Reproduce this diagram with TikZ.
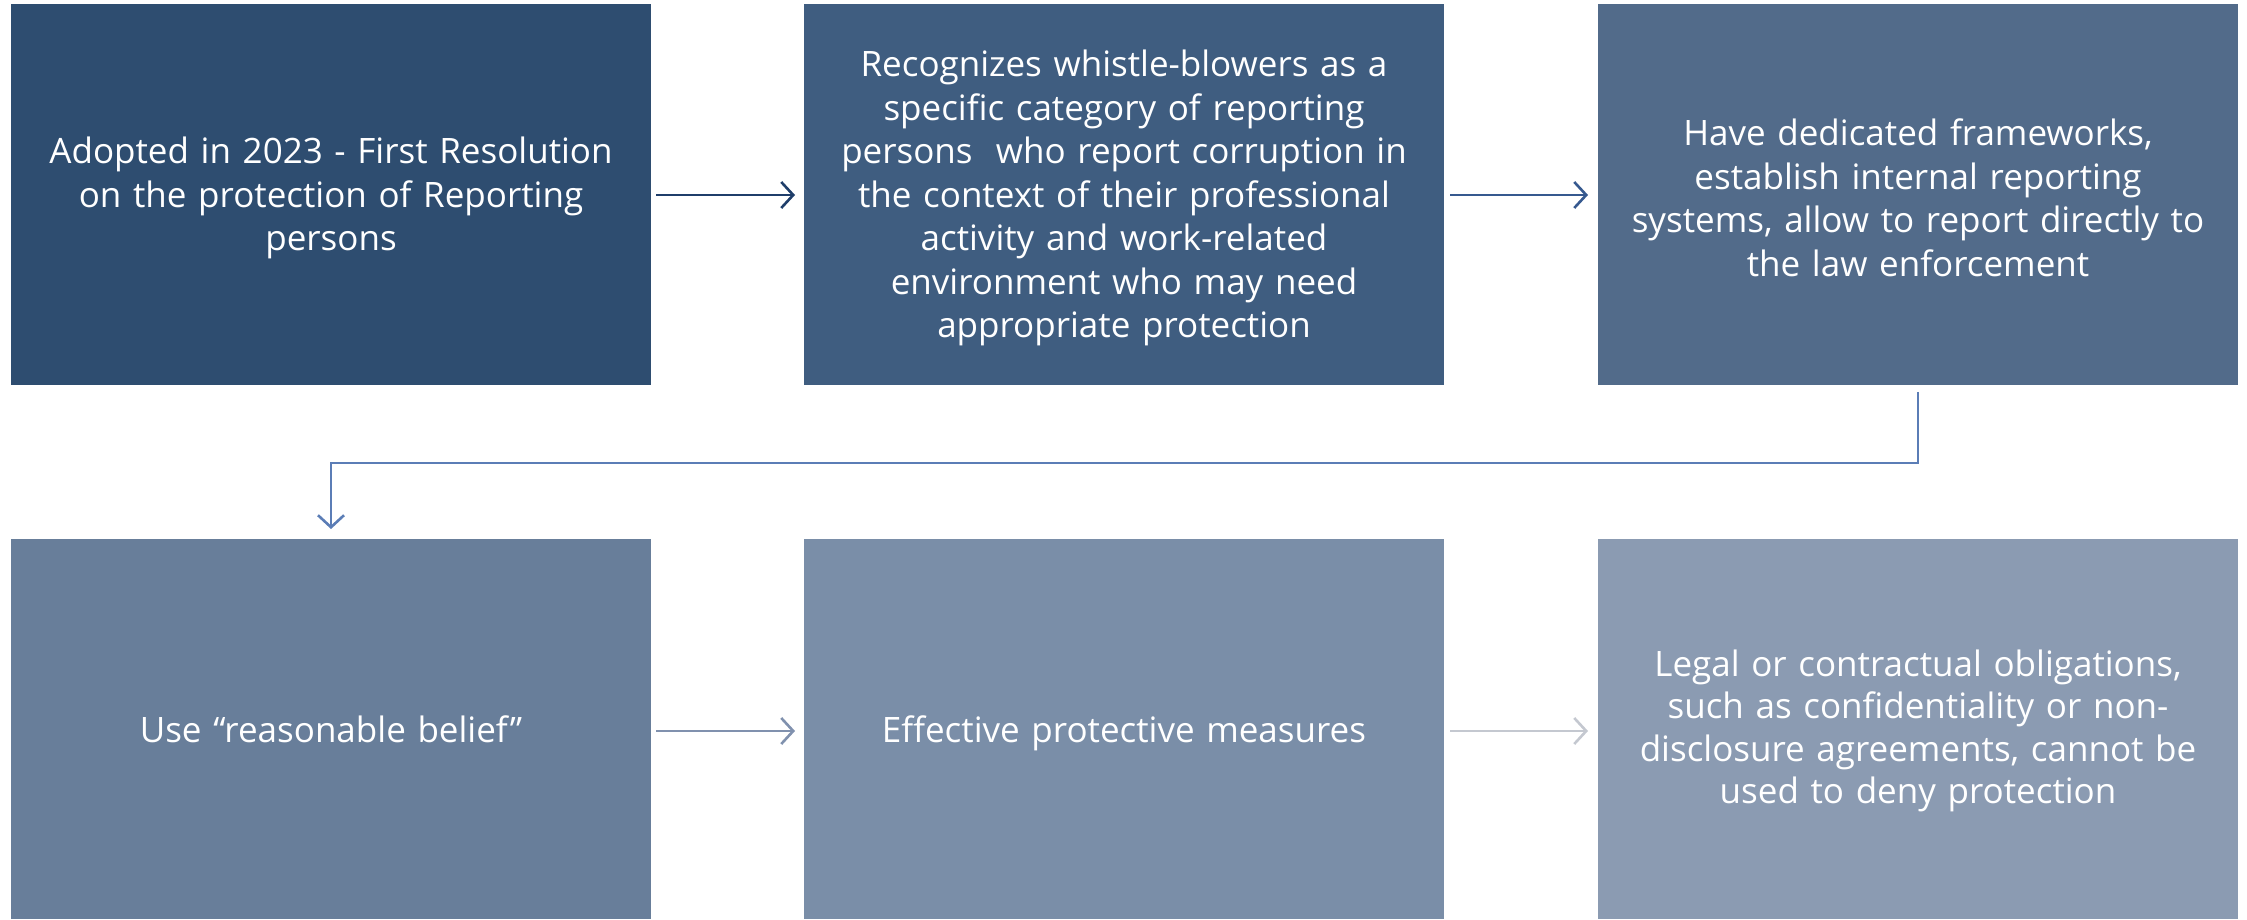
\documentclass[tikz,border=0pt]{standalone}
\usepackage{fontspec}
\setmainfont{Open Sans}
\usetikzlibrary{arrows.meta}
\definecolor{bA}{HTML}{2E4D70}
\definecolor{bB}{HTML}{3F5D80}
\definecolor{bC}{HTML}{526B8A}
\definecolor{bD}{HTML}{687E9A}
\definecolor{bE}{HTML}{7A8EA8}
\definecolor{bF}{HTML}{8B9BB2}
\definecolor{aA}{HTML}{1F3E6A}
\definecolor{aB}{HTML}{36598F}
\definecolor{aC}{HTML}{5B7DB6}
\definecolor{aD}{HTML}{8091AE}
\definecolor{aE}{HTML}{C4C8D0}
\tikzset{
  x=1pt,y=1pt,
  card/.style={draw=none,minimum width=640pt,text width=620pt,align=center,
    text=white,font=\fontsize{35}{43.5}\selectfont,inner sep=0pt},
  flow/.style={line width=2.6pt,-{Straight Barb[length=12pt,width=26pt,line width=2.6pt]}}
}
\begin{document}
\begin{tikzpicture}
\useasboundingbox (0,0) rectangle (2247,919);
\fill[bA] (11,534) rectangle (651,915);
\fill[bB] (804,534) rectangle (1444,915);
\fill[bC] (1598,534) rectangle (2238,915);
\fill[bD] (11,0) rectangle (651,380);
\fill[bE] (804,0) rectangle (1444,380);
\fill[bF] (1598,0) rectangle (2238,380);
\node[card] (n1) at (331,721) {Adopted in 2023 - First Resolution\\on the protection of Reporting\\persons};
\node[card] (n2) at (1124,721) {Recognizes whistle-blowers as a\\specific category of reporting\\persons\ \ who report corruption in\\the context of their professional\\activity and work-related\\environment who may need\\appropriate protection};
\node[card] (n3) at (1918,721) {Have dedicated frameworks,\\establish internal reporting\\systems, allow to report directly to\\the law enforcement};
\node[card] (n4) at (331,190) {Use “reasonable belief”};
\node[card] (n5) at (1124,186) {Effective protective measures};
\node[card,font=\fontsize{35}{42.5}\selectfont] (n6) at (1918,188) {Legal or contractual obligations,\\such as confidentiality or non-\\disclosure agreements, cannot be\\used to deny protection};
\coordinate (a1s) at (656,724); \coordinate (a1e) at (795,724);
\coordinate (a2s) at (1450,724); \coordinate (a2e) at (1588,724);
\coordinate (c1) at (1918,527); \coordinate (c2) at (1918,456);
\coordinate (c3) at (331,456); \coordinate (c4) at (331,390);
\coordinate (a4s) at (656,188); \coordinate (a4e) at (795,188);
\coordinate (a5s) at (1450,188); \coordinate (a5e) at (1588,188);
\draw[flow,aA] (a1s) -- (a1e);
\draw[flow,aB] (a2s) -- (a2e);
\draw[flow,aC] (c1) -- (c2) -- (c3) -- (c4);
\draw[flow,aD] (a4s) -- (a4e);
\draw[flow,aE] (a5s) -- (a5e);
\end{tikzpicture}
\end{document}
